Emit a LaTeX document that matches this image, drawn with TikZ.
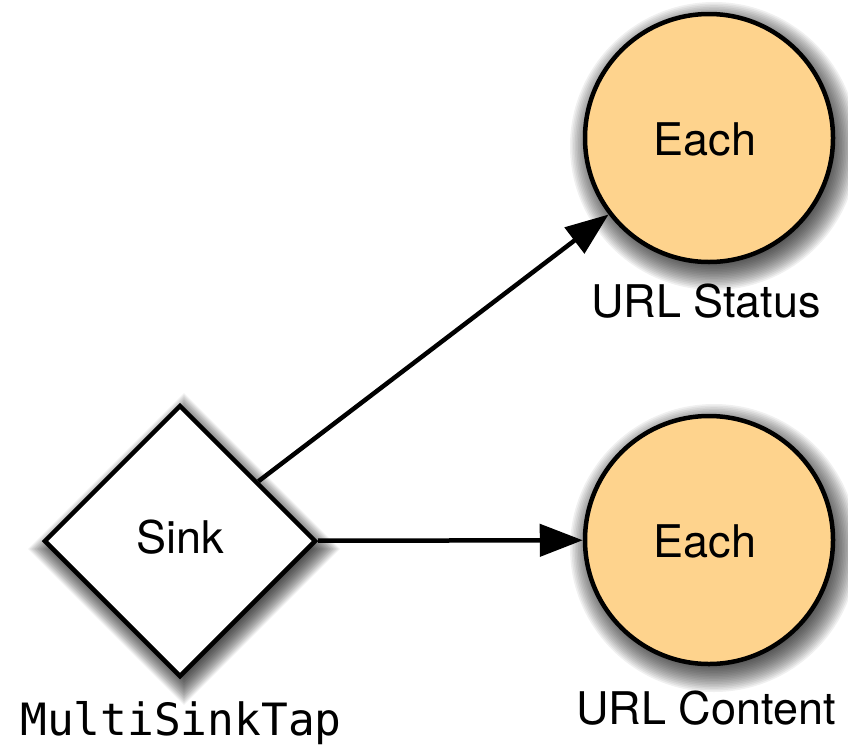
\documentclass[tikz,border=0pt]{standalone}
\usepackage{fontspec}
\setmainfont{TeX Gyre Heros}
\setmonofont{DejaVu Sans Mono}
\usetikzlibrary{shapes.geometric,arrows.meta,backgrounds,calc}
\definecolor{eachfill}{RGB}{254,211,141}
\begin{document}
\begin{tikzpicture}[x=1pt,y=-1pt,
  eachnode/.style={circle,draw=black,line width=4.5pt,fill=eachfill,minimum size=248pt,inner sep=0pt},
  sinknode/.style={diamond,draw=black,line width=4.5pt,fill=white,minimum width=272pt,minimum height=272pt,inner sep=0pt},
  lbl/.style={anchor=base,inner sep=0pt,font=\fontsize{45}{50}\selectfont},
  monolbl/.style={anchor=base,inner sep=0pt,font=\ttfamily\fontsize{44.5}{50}\selectfont},
  shadowlayer/.style={fill=black,fill opacity=0.06},
  conn/.style={line width=4.5pt,-{Triangle[length=43pt,width=32pt]}}]
\useasboundingbox (0,0) rectangle (848,750);
\node[sinknode] (sink) at (180,541) {};
\node[eachnode] (st) at (709,138) {};
\node[eachnode] (ct) at (709,540) {};
\begin{scope}[on background layer]
  \foreach \k in {0,...,19} {
    \pgfmathsetmacro{\rr}{124+20-1.6*\k}
    \pgfmathsetmacro{\dd}{136*1.414+28-2.3*\k}
    \fill[shadowlayer] ($(st.center)+(5,8)$) circle (\rr);
    \fill[shadowlayer] ($(ct.center)+(5,8)$) circle (\rr);
    \fill[shadowlayer] ($(sink.center)+(4,8)+(0,-\dd/1.414)$) -- ++(\dd/1.414,\dd/1.414) -- ++(-\dd/1.414,\dd/1.414) -- ++(-\dd/1.414,-\dd/1.414) -- cycle;
  }
\end{scope}
\node[lbl] (sinkt) at (180,553) {Sink};
\node[lbl] (stt) at (705,155) {Each};
\node[lbl] (ctt) at (705,557) {Each};
\node[lbl] (stl) at (706,317) {URL Status};
\node[lbl] (ctl) at (706,724) {URL Content};
\node[monolbl] (tap) at (181,735) {MultiSinkTap};
\draw[conn] (sink) -- (st);
\draw[conn] (sink) -- (ct);
\end{tikzpicture}
\end{document}
